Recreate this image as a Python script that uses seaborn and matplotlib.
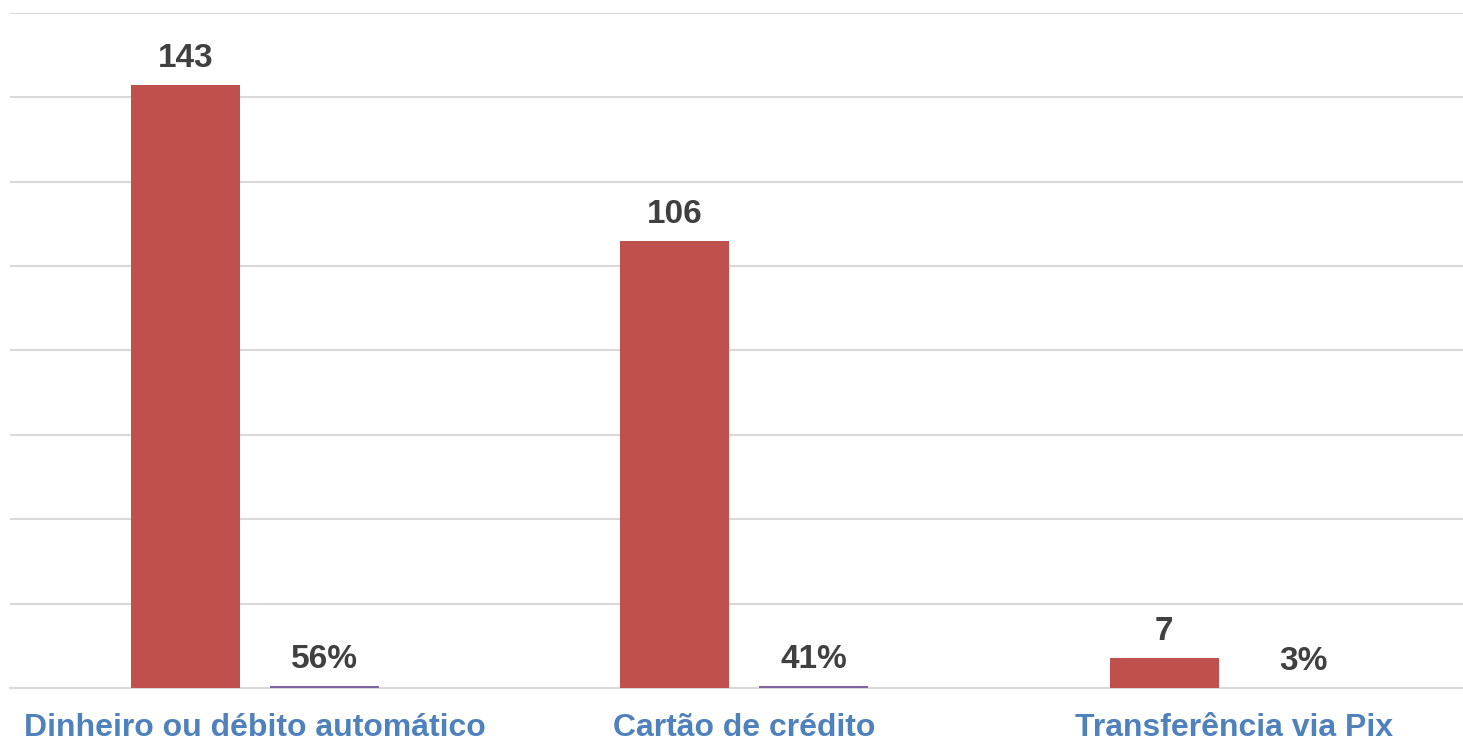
import pandas as pd
import numpy as np
import seaborn as sns
import matplotlib.pyplot as plt

categorias = ['Dinheiro ou débito automático', 'Cartão de crédito', 'Transferência via Pix']
quantidade = [143, 106, 7]
percentual = [0.56, 0.41, 0.03]

df = pd.DataFrame({
    'categoria': categorias * 2,
    'valor': quantidade + percentual,
    'serie': ['Quantidade'] * 3 + ['Percentual'] * 3,
})

sns.set_theme(style='white')
plt.rcParams['font.family'] = ['Liberation Sans', 'DejaVu Sans']

fig = plt.figure(figsize=(14.63, 7.42), dpi=100)
ax = fig.add_axes([0.00684, 0.0728, 0.99316, 0.9097])

sns.barplot(data=df, x='categoria', y='valor', hue='serie',
            palette=['#C0504D', '#8064A2'], width=0.568, gap=0.216,
            legend=False, ax=ax, saturation=1)

ax.set_ylim(0, 160)
ax.set_xlim(-0.5, 2.468)
ax.set_yticks(np.arange(0, 161, 20))
ax.yaxis.grid(True, color='#D9D9D9', linewidth=1.5)
ax.set_axisbelow(True)
ax.tick_params(axis='y', left=False, labelleft=False)
ax.tick_params(axis='x', bottom=False, pad=12)
for s in ['top', 'right', 'left']:
    ax.spines[s].set_visible(False)
ax.spines['bottom'].set_color('#D9D9D9')
ax.spines['bottom'].set_linewidth(1.5)
ax.spines['bottom'].set_zorder(0.5)
ax.set_xlabel('')
ax.set_ylabel('')

# barras acima da linha de base (as de percentual sao muito finas)
for p in ax.patches:
    p.set_zorder(3)
    p.set_linewidth(0)

for lbl in ax.get_xticklabels():
    lbl.set_color('#4F81BD')
    lbl.set_fontweight('bold')
    lbl.set_fontsize(23)

ax.bar_label(ax.containers[0], labels=[str(v) for v in quantidade],
             padding=8, fontsize=24, fontweight='bold', color='#404040')
ax.bar_label(ax.containers[1], labels=[f'{round(v * 100)}%' for v in percentual],
             padding=8, fontsize=24, fontweight='bold', color='#404040')

fig.savefig('out.png', dpi=100)
